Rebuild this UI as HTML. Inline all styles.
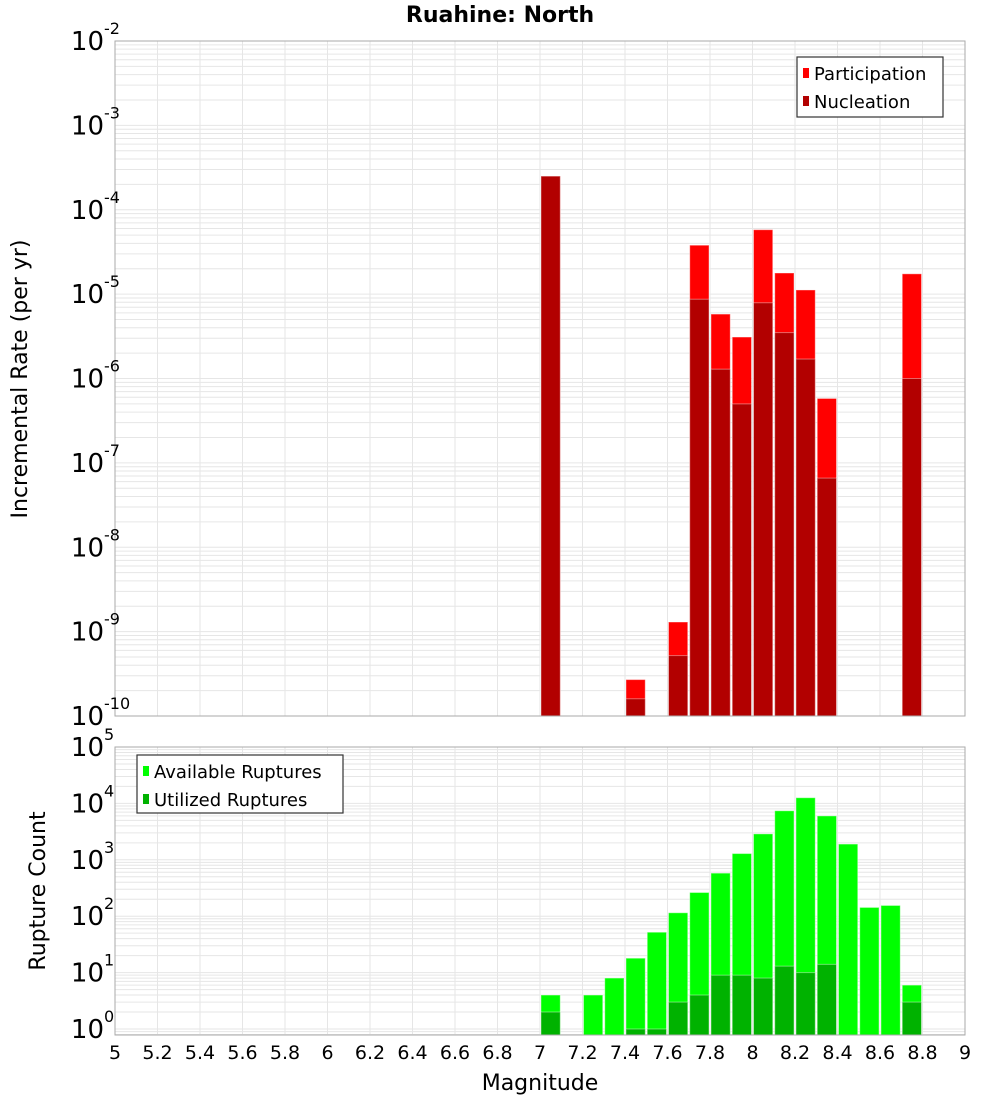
<!DOCTYPE html>
<html><head><meta charset="utf-8"><style>
html,body{margin:0;padding:0;background:#fff;}
svg{display:block;font-family:"DejaVu Sans","Liberation Sans",sans-serif;}
</style></head><body>
<svg id="c" width="1000" height="1100" xmlns="http://www.w3.org/2000/svg">
<text x="500" y="22" text-anchor="middle" font-size="22" font-weight="bold">Ruahine: North</text>
<text transform="translate(27,379) rotate(-90)" text-anchor="middle" font-size="22">Incremental Rate (per yr)</text>
<text transform="translate(45,891) rotate(-90)" text-anchor="middle" font-size="22">Rupture Count</text>
<text x="540" y="1090" text-anchor="middle" font-size="22">Magnitude</text>
<g id="g"></g>
</svg>
<script>
const mags = [7.0,7.4,7.6,7.7,7.8,7.9,8.0,8.1,8.2,8.3,8.7];
const participation = [2.5e-4,2.7e-10,1.3e-9,3.8e-5,5.8e-6,3.1e-6,5.8e-5,1.78e-5,1.12e-5,5.8e-7,1.74e-5];
const nucleation = [2.5e-4,1.6e-10,5.2e-10,8.7e-6,1.29e-6,5e-7,7.9e-6,3.5e-6,1.7e-6,6.6e-8,1e-6];
const cntMags = [7.0,7.2,7.3,7.4,7.5,7.6,7.7,7.8,7.9,8.0,8.1,8.2,8.3,8.4,8.5,8.6,8.7];
const available = [4,4,8,18,52,115,263,580,1290,2880,7400,12600,6000,1900,143,155,6];
const utilized = [2,0,0,1,1,3,4,9,9,8,13,10,14,0,0,0,3];
const xTicks = [5,5.2,5.4,5.6,5.8,6,6.2,6.4,6.6,6.8,7,7.2,7.4,7.6,7.8,8,8.2,8.4,8.6,8.8,9];
const topExps = [-2,-3,-4,-5,-6,-7,-8,-9,-10];
const botExps = [5,4,3,2,1,0];

const NS="http://www.w3.org/2000/svg";
const g=document.getElementById('g');
function mk(t,a,p){const e=document.createElementNS(NS,t);for(const k in a)e.setAttribute(k,a[k]);(p||g).appendChild(e);return e;}
const X0=115,X1=965;
const x=m=>X0+(m-5)/4*(X1-X0);
const T0=41,T1=716,B0=747,B1=1035;
const yTop=v=>T0+(-2-Math.log10(v))*(T1-T0)/8;
const BD=56.4;
const yBot=v=>B0+(5-Math.log10(v))*BD;

function grid(y0,y1,ylog,lo,hi){
  for(let d=lo;d<hi;d++)for(let k=1;k<10;k++){const yy=ylog(k*Math.pow(10,d));if(yy>=y0&&yy<=y1){const l=mk('line',{x1:X0,x2:X1,y1:yy,y2:yy,stroke:'#e6e6e6','stroke-width':1});}}
  xTicks.forEach(t=>{const l=mk('line',{x1:x(t),x2:x(t),y1:y0,y2:y1,stroke:'#e6e6e6','stroke-width':1});});
}
grid(T0,T1,yTop,-10,-1);
grid(B0,B1,yBot,-1,6);

function bar(m,v,ylog,ybase,fill,name){
  const yy=ylog(v);const r=mk('rect',{x:x(m)+1,y:yy,width:x(m+0.1)-x(m)-2,height:ybase-yy,fill:fill,stroke:'rgba(255,255,255,0.4)','stroke-width':1});
  
}
mags.forEach((m,i)=>{bar(m,participation[i],yTop,T1,'#ff0000','participation-bar');});
mags.forEach((m,i)=>{bar(m,nucleation[i],yTop,T1,'#b20000','nucleation-bar');});
cntMags.forEach((m,i)=>{if(available[i]>0)bar(m,available[i],yBot,B1,'#00ff00','available-bar');});
cntMags.forEach((m,i)=>{if(utilized[i]>0)bar(m,utilized[i],yBot,B1,'#00b200','utilized-bar');});

[[T0,T1],[B0,B1]].forEach(([a,b])=>{const r=mk('rect',{x:X0,y:a,width:X1-X0,height:b-a,fill:'none',stroke:'#aaa','stroke-width':1});});

function ylab(yy,e,name){
  const t=mk('text',{x:104,y:yy+9,'text-anchor':'end','font-size':26});
  
  t.textContent='10';
  const s=mk('text',{x:104,y:yy-7,'font-size':16});
  
  s.textContent=String(e);
}
topExps.forEach(e=>ylab(yTop(Math.pow(10,e)),e,'top-y-tick-label'));
botExps.forEach(e=>ylab(yBot(Math.pow(10,e)),e,'bottom-y-tick-label'));
xTicks.forEach(t=>{const l=mk('text',{x:x(t),y:1059,'text-anchor':'middle','font-size':19});l.textContent=String(+t.toFixed(1));});

function legend(bx,by,w,h,items,name){
  const lg=mk('g',{});
  mk('rect',{x:bx,y:by,width:w,height:h,fill:'#fff',stroke:'#333','stroke-width':1.2},lg);
  items.forEach((it,i)=>{
    const sw=mk('rect',{x:bx+6,y:by+11+i*28,width:6,height:10,fill:it[1]},lg);
    
    const t=mk('text',{x:bx+17,y:by+23+i*28,'font-size':18},lg);
    
    t.textContent=it[0];
  });
}
legend(797,57,146,60,[['Participation','#ff0000'],['Nucleation','#b20000']],'top-legend');
legend(137,755,206,58,[['Available Ruptures','#00ff00'],['Utilized Ruptures','#00b200']],'bottom-legend');
</script>
</body></html>
